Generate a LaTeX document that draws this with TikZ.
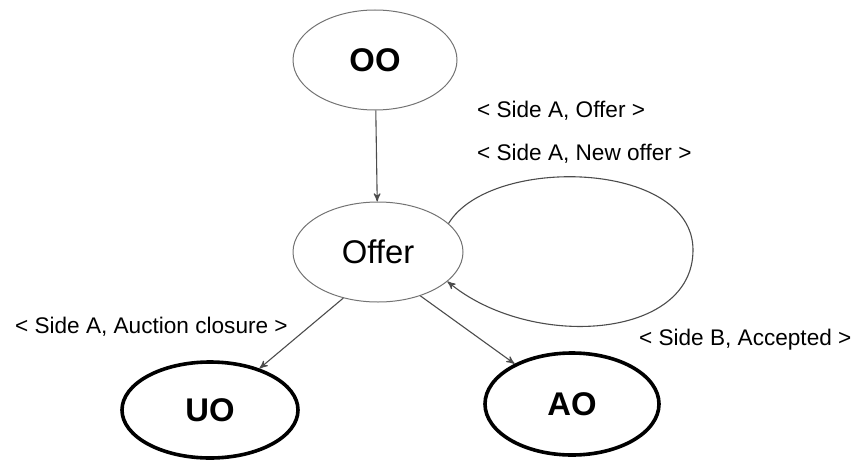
\documentclass[tikz,border=0pt]{standalone}
\usepackage{fontspec}
\setmainfont{Liberation Sans}
\usetikzlibrary{arrows,shapes.geometric}

\begin{document}
\begin{tikzpicture}[->,>=stealth',x=0.5pt,y=-0.5pt,
                    font=\fontsize{11.3}{13}\selectfont]
  \tikzstyle{st}=[ellipse,draw=black!55,line width=0.5pt,inner sep=0pt,
                  font=\fontsize{16.4}{19}\selectfont]
  \tikzstyle{final}=[draw=black,line width=1.8pt]
  \tikzstyle{trans}=[draw=black!70,line width=0.55pt]

  \useasboundingbox (0,0) rectangle (855,460);

  \node[st,minimum width=82pt,minimum height=50pt]       (OO)    at (375,60)  {\textbf{OO}};
  \node[st,minimum width=85pt,minimum height=50pt]       (Offer) at (378,252) {Offer};
  \node[st,final,minimum width=88pt,minimum height=48pt] (UO)    at (210,410) {\textbf{UO}};
  \node[st,final,minimum width=87pt,minimum height=51pt] (AO)    at (572,404) {\textbf{AO}};

  % transition labels
  \node[anchor=base west] (lOffer)   at (470,118) {< Side A, Offer >};
  \node[anchor=base west] (lNew)     at (470,160) {< Side A, New offer >};
  \node[anchor=base west] (lClosure) at (8,333)   {< Side A, Auction closure >};
  \node[anchor=base west] (lAccept)  at (632,345) {< Side B, Accepted >};

  \path (OO) edge [trans] (Offer)
        (Offer.233) edge [trans] (UO.40)
        (Offer.-46) edge [trans] (AO.145);
  \draw[trans] (Offer.22) .. controls (490,155) and (693,160) .. (693,250)
               .. controls (693,340) and (530,350) .. (Offer.-23);
\end{tikzpicture}
\end{document}
